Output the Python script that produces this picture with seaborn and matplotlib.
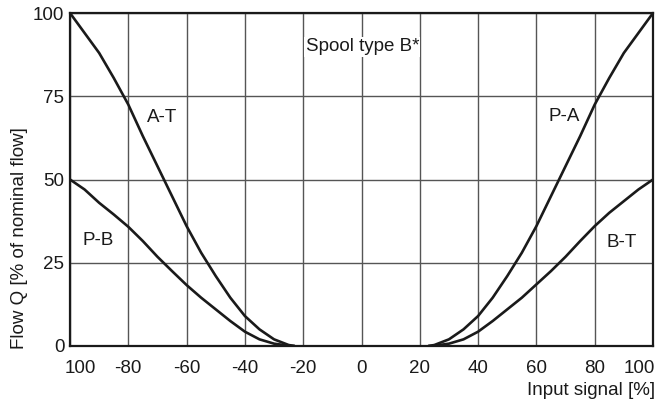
import matplotlib
matplotlib.use("Agg")
import matplotlib.pyplot as plt
import matplotlib.transforms as mtransforms
import seaborn as sns

# Data
x_at = [-100, -95, -90, -85, -80, -75, -70, -65, -60, -55, -50, -45, -40, -35, -30, -25, -23]
y_at = [100, 94, 88, 80.5, 72.5, 63, 54, 45, 36, 28, 21, 14.5, 9, 5, 2, 0.3, 0]

x_pb = [-100, -95, -90, -85, -80, -75, -70, -65, -60, -55, -50, -45, -40, -35, -30, -25, -23]
y_pb = [50, 47, 43, 39.5, 35.8, 31.5, 26.8, 22.5, 18.3, 14.5, 11, 7.5, 4.3, 2, 0.7, 0.1, 0]

x_pa = [23, 25, 30, 35, 40, 45, 50, 55, 60, 65, 70, 75, 80, 85, 90, 95, 100]
y_pa = [0, 0.3, 2, 5, 9, 14.5, 21, 28, 36, 45, 54, 63, 72.5, 80.5, 88, 94, 100]

x_bt = [23, 25, 30, 35, 40, 45, 50, 55, 60, 65, 70, 75, 80, 85, 90, 95, 100]
y_bt = [0, 0.1, 0.7, 2, 4.3, 7.5, 11, 14.5, 18.5, 22.5, 26.8, 31.5, 36, 40, 43.5, 47, 50]

x_ticks = [-100, -80, -60, -40, -20, 0, 20, 40, 60, 80, 100]
x_tick_labels = ["100", "-80", "-60", "-40", "-20", "0", "20", "40", "60", "80", "100"]
y_ticks = [0, 25, 50, 75, 100]

ink = "#1a1a1a"
fs = 13.5

sns.set_style("white")
plt.rcParams["font.family"] = ["Liberation Sans", "DejaVu Sans"]

fig = plt.figure(figsize=(6.62, 4.08), dpi=100)
ax = fig.add_axes([70 / 662, 1 - 346 / 408, 583 / 662, 333 / 408])

for xs, ys in [(x_at, y_at), (x_pb, y_pb), (x_pa, y_pa), (x_bt, y_bt)]:
    sns.lineplot(x=xs, y=ys, ax=ax, color=ink, linewidth=1.9, zorder=3)

ax.set_xlim(-100, 100)
ax.set_ylim(0, 100)
ax.set_xticks(x_ticks)
ax.set_xticklabels(x_tick_labels)
ax.set_yticks(y_ticks)
ax.grid(True, color="#555555", linewidth=1.0)
ax.tick_params(axis="x", length=0, labelsize=fs, colors=ink, pad=10)
ax.tick_params(axis="y", length=0, labelsize=fs, colors=ink, pad=4)
for s in ax.spines.values():
    s.set_color(ink)
    s.set_linewidth(1.6)
    s.set_visible(True)

# end labels pulled inward like in the original
labels = ax.get_xticklabels()
labels[0].set_ha("left")
labels[0].set_transform(labels[0].get_transform() +
                        mtransforms.ScaledTranslation(-5 / 100, 0, fig.dpi_scale_trans))
labels[-1].set_ha("right")
labels[-1].set_transform(labels[-1].get_transform() +
                         mtransforms.ScaledTranslation(2 / 100, 0, fig.dpi_scale_trans))

ax.text(1.003, -0.135, "Input signal [%]", transform=ax.transAxes, ha="right", va="center",
        fontsize=fs, color=ink)
ax.text(-0.086, 0.324, "Flow Q [% of nominal flow]", transform=ax.transAxes, rotation=90,
        ha="center", va="center", fontsize=fs, color=ink)

ax.text(0.3, 89.8, "Spool type B*", ha="center", va="center", fontsize=fs, color=ink,
        bbox=dict(facecolor="white", edgecolor="none", pad=1), zorder=4)
ax.text(-68.4, 68.5, "A-T", ha="center", va="center", fontsize=fs, color=ink)
ax.text(-90.4, 31.8, "P-B", ha="center", va="center", fontsize=fs, color=ink)
ax.text(69.6, 68.8, "P-A", ha="center", va="center", fontsize=fs, color=ink)
ax.text(89.2, 31.2, "B-T", ha="center", va="center", fontsize=fs, color=ink)

fig.savefig("out.png", dpi=100)
